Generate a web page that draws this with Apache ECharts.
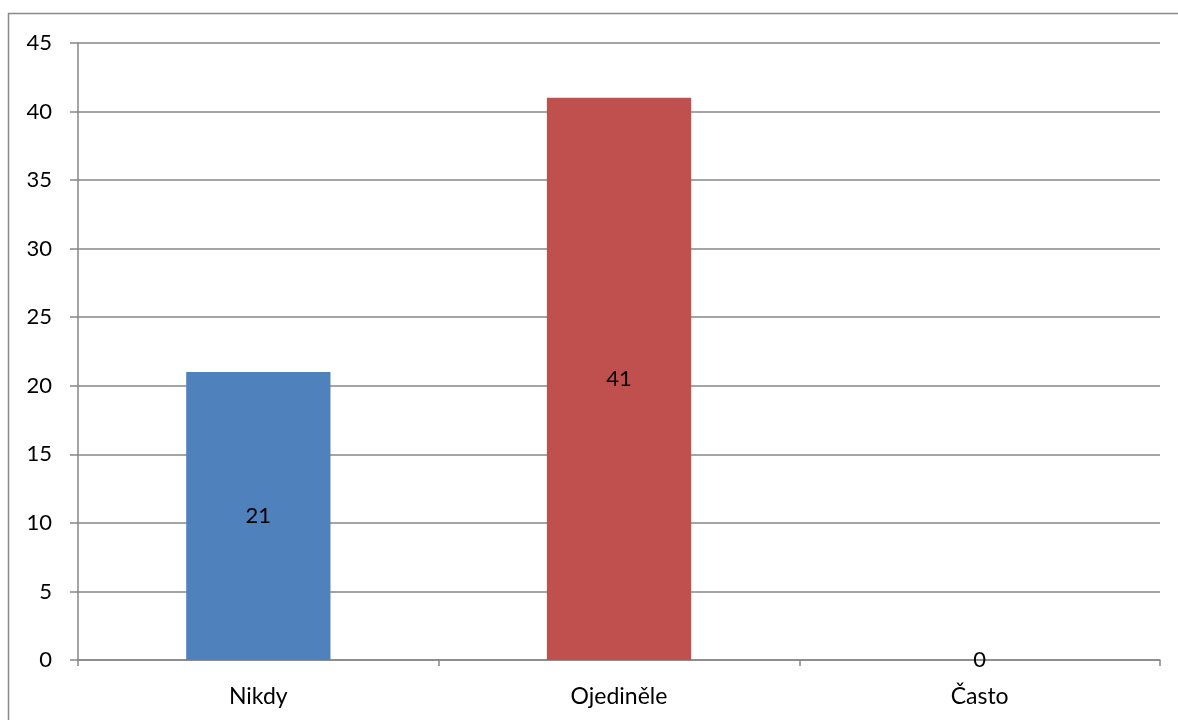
<!DOCTYPE html>
<html>
<head>
<meta charset="utf-8">
<script src="https://cdn.jsdelivr.net/npm/echarts@6/dist/echarts.min.js"></script>
<style>
  html, body { margin: 0; padding: 0; background: #fff; }
  #chart { width: 1178px; height: 720px; }
</style>
</head>
<body>
<div id="chart"></div>
<script>
// Frequency of answers
const categories = ['Nikdy', 'Ojediněle', 'Často'];
const counts = [21, 41, 0];
const barColors = ['#4F81BD', '#C0504D', '#9BBB59'];
const yMin = 0, yMax = 45, yStep = 5;

const chart = echarts.init(document.getElementById('chart'));
const font = 'Lato, Carlito, Calibri, sans-serif';

chart.setOption({
  animation: false,
  backgroundColor: '#fff',
  graphic: [{
    type: 'rect',
    shape: { x: 8.5, y: 13.5, width: 1180, height: 720 },
    style: { fill: 'none', stroke: '#898989', lineWidth: 1.5 },
    silent: true
  }],
  grid: { left: 78, right: 18, top: 43, bottom: 60, containLabel: false },
  xAxis: {
    type: 'category',
    data: categories,
    axisLine: { lineStyle: { color: '#868686', width: 1.5 } },
    axisTick: { show: true, length: 6, alignWithLabel: false, lineStyle: { color: '#868686', width: 1.5 } },
    axisLabel: { color: '#000', fontSize: 23, fontFamily: font, margin: 25 },
    splitLine: { show: false }
  },
  yAxis: {
    type: 'value',
    min: yMin, max: yMax, interval: yStep,
    axisLine: { show: true, lineStyle: { color: '#868686', width: 1.5 } },
    axisTick: { show: true, length: 8, lineStyle: { color: '#868686', width: 1.5 } },
    axisLabel: { color: '#000', fontSize: 22, fontFamily: font, margin: 26 },
    splitLine: { show: true, lineStyle: { color: '#868686', width: 1.5 } }
  },
  series: [{
    type: 'bar',
    barWidth: '40%',
    data: counts.map((v, i) => ({ value: v, itemStyle: { color: barColors[i] } })),
    label: {
      show: true,
      position: 'inside',
      color: '#000',
      fontSize: 22,
      fontFamily: font
    }
  }]
});
</script>
</body>
</html>
